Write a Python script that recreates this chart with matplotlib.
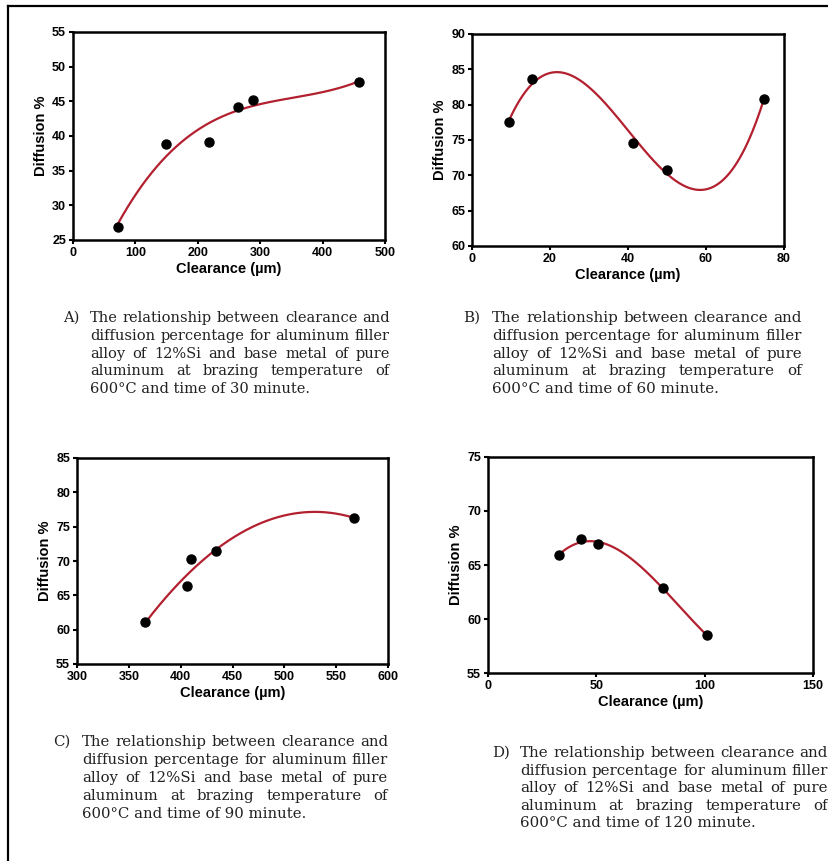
import matplotlib
matplotlib.use("Agg")
import matplotlib.pyplot as plt
import numpy as np
from matplotlib.lines import Line2D

W, H = 829, 861

# panel data
xa = [72, 149, 218, 265, 289, 458]
ya = [26.9, 38.9, 39.2, 44.2, 45.2, 47.8]
xb = [9.6, 15.5, 41.4, 50.1, 74.9]
yb = [77.5, 83.6, 74.6, 70.8, 80.8]
xc = [366, 406, 410, 434, 567]
yc = [61.1, 66.3, 70.3, 71.5, 76.3]
xd = [32.9, 42.8, 50.7, 80.6, 100.9]
yd = [65.9, 67.4, 66.9, 62.9, 58.5]

fit_deg = {"A": 3, "B": 3, "C": 2, "D": 3}

lines_common = ["The relationship between clearance and",
                "diffusion percentage for aluminum filler",
                "alloy of 12%Si and base metal of pure",
                "aluminum at brazing temperature of"]
times = ["30", "60", "90", "120"]

fig = plt.figure(figsize=(W / 100, H / 100), dpi=100)
fig.patch.set_facecolor("white")

# outer frame, only left and top edges show in the picture
fig.add_artist(Line2D([8 / W, 8 / W], [0, 1 - 6 / H], color="black", lw=1.6))
fig.add_artist(Line2D([8 / W, 1], [1 - 6 / H, 1 - 6 / H], color="black", lw=1.6))


def px_rect(x0, y0, x1, y1):
    return [x0 / W, 1 - y1 / H, (x1 - x0) / W, (y1 - y0) / H]


def panel(rect, x, y, deg, xlim, xstep, ylim, ystep):
    ax = fig.add_axes(rect)
    coef = np.polyfit(x, y, deg)
    xs = np.linspace(min(x), max(x), 200)
    ax.plot(xs, np.polyval(coef, xs), color="#b3202f", lw=1.6, zorder=2)
    ax.plot(x, y, "o", color="black", ms=6.5, zorder=3)
    ax.set_xlim(*xlim)
    ax.set_ylim(*ylim)
    ax.set_xticks(np.arange(xlim[0], xlim[1] + 1, xstep))
    ax.set_yticks(np.arange(ylim[0], ylim[1] + 1, ystep))
    for s in ax.spines.values():
        s.set_linewidth(1.8)
    ax.tick_params(direction="out", length=3, width=1.5, pad=2,
                   labelsize=9)
    for lab in ax.get_xticklabels() + ax.get_yticklabels():
        lab.set_fontweight("bold")
        lab.set_family("Liberation Sans")
    ax.set_xlabel("Clearance (\u00b5m)", fontsize=10.5, fontweight="bold",
                  family="Liberation Sans", labelpad=2)
    ax.set_ylabel("Diffusion %", fontsize=10.5, fontweight="bold",
                  family="Liberation Sans", labelpad=3)
    return ax


panel(px_rect(73, 32, 385, 240), xa, ya, fit_deg["A"], (0, 500), 100, (25, 55), 5)
panel(px_rect(472, 34, 784, 246), xb, yb, fit_deg["B"], (0, 80), 20, (60, 90), 5)
panel(px_rect(77, 458, 388, 664), xc, yc, fit_deg["C"], (300, 600), 50, (55, 85), 5)
panel(px_rect(488, 457, 813, 673), xd, yd, fit_deg["D"], (0, 150), 50, (55, 75), 5)

fig.canvas.draw()
renderer = fig.canvas.get_renderer()
serif = "DejaVu Serif"


def natural_width(s, size):
    t = fig.text(0, 0, s, fontsize=size, family=serif)
    w = t.get_window_extent(renderer).width
    t.remove()
    return w


def caption(label, tmin, xl, x0, x1, y0, dy):
    widest = max(natural_width(r, 10) for r in lines_common)
    size = 10 * (x1 - x0) / widest
    kw = dict(fontsize=size, family=serif, va="center", ha="left",
              color="#222222")
    fig.text(xl / W, 1 - y0 / H, label, **kw)
    rows = lines_common + ["600\u00b0C and time of %s minute." % tmin]
    for i, row in enumerate(rows):
        yy = 1 - (y0 + i * dy) / H
        if i == len(rows) - 1:
            fig.text(x0 / W, yy, row, **kw)
            continue
        words = row.split()
        txts = [fig.text(0, yy, w, **kw) for w in words]
        widths = [t.get_window_extent(renderer).width for t in txts]
        gap = (x1 - x0 - sum(widths)) / (len(words) - 1)
        xx = x0
        for t, w in zip(txts, widths):
            t.set_x(xx / W)
            xx += w + gap


caption("A)", times[0], 63, 90, 390, 318, 17.8)
caption("B)", times[1], 463, 492, 802, 318, 17.8)
caption("C)", times[2], 53, 82, 388, 742, 18.0)
caption("D)", times[3], 492, 520, 828, 753, 17.6)

fig.savefig("out.png", dpi=100, facecolor="white")
